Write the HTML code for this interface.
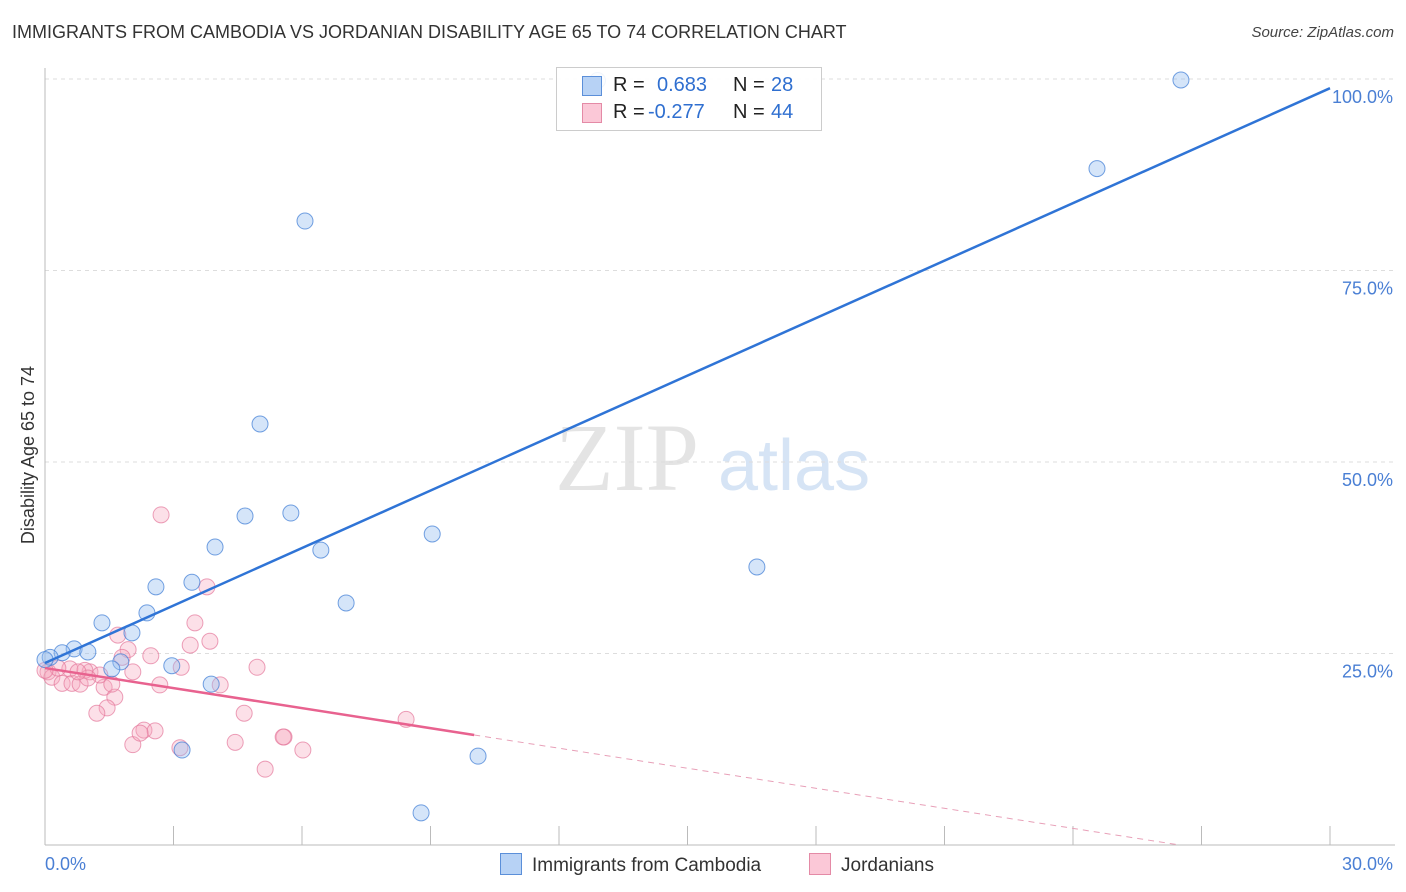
<!DOCTYPE html>
<html><head><meta charset="utf-8">
<style>
body{margin:0;background:#fff;font-family:"Liberation Sans",sans-serif;}
#wrap{position:relative;width:1406px;height:892px;overflow:hidden;}
.t{position:absolute;white-space:nowrap;}
</style></head>
<body>
<div id="wrap">
<div class="t" style="left:12px;top:22px;font-size:18px;color:#333;">IMMIGRANTS FROM CAMBODIA VS JORDANIAN DISABILITY AGE 65 TO 74 CORRELATION CHART</div>
<div class="t" style="right:12px;top:24px;font-size:15px;color:#444;font-style:italic;">Source: ZipAtlas.com</div>
<svg id="svg" width="1406" height="892" style="position:absolute;left:0;top:0">
<text x="555" y="490" font-family="Liberation Serif,serif" font-size="96" fill="#e4e4e4">ZIP</text>
<text x="718" y="490" font-family="Liberation Sans,sans-serif" font-size="72" fill="#d6e4f5">atlas</text>
<g id="grid"></g><g id="axes"></g><g id="pts"></g><g id="lines"></g>
<text transform="translate(34,455) rotate(-90)" text-anchor="middle" font-size="18" fill="#333">Disability Age 65 to 74</text>
</svg>
<div style="position:absolute;left:556px;top:67px;width:264px;height:62px;border:1px solid #ccc;background:rgba(255,255,255,0.9);font-size:20px;">
 <div style="position:absolute;left:25px;top:8px;width:18px;height:18px;background:#b7d2f5;border:1px solid #5b8fd9;"></div>
 <div style="position:absolute;left:25px;top:35px;width:18px;height:18px;background:#fbc8d7;border:1px solid #e48aa6;"></div>
 <div class="t" style="left:56px;top:6px;color:#222">R = </div><div class="t" style="left:100px;top:6px;color:#2f6fd0">0.683</div>
 <div class="t" style="left:176px;top:6px;color:#222">N = </div><div class="t" style="left:214px;top:6px;color:#2f6fd0">28</div>
 <div class="t" style="left:56px;top:33px;color:#222">R = </div><div class="t" style="left:91px;top:33px;color:#2f6fd0">-0.277</div>
 <div class="t" style="left:176px;top:33px;color:#222">N = </div><div class="t" style="left:214px;top:33px;color:#2f6fd0">44</div>
</div>
<div style="position:absolute;left:500px;top:853px;font-size:19px;color:#333;">
 <span style="display:inline-block;width:20px;height:20px;background:#b7d2f5;border:1px solid #5b8fd9;vertical-align:-4px;margin-right:10px"></span>Immigrants from Cambodia</div>
<div style="position:absolute;left:809px;top:853px;font-size:19px;color:#333;">
 <span style="display:inline-block;width:20px;height:20px;background:#fbc8d7;border:1px solid #e48aa6;vertical-align:-4px;margin-right:10px"></span>Jordanians</div>
</div>
<script>
const blueX=[26.52,24.56,6.07,5.02,4.67,5.74,3.97,9.04,6.44,16.62,2.59,3.43,7.03,2.38,1.33,2.03,0.68,1.0,0.4,0.12,1.77,1.56,2.96,3.88,3.2,10.11,8.78,0,12.9];
const blueY=[99.87,88.3,81.46,54.96,42.95,43.34,38.9,40.6,38.5,36.3,33.7,34.3,31.6,30.3,29.0,27.7,25.6,25.2,25.1,24.5,23.9,23.0,23.4,21.0,12.4,11.6,4.2,24.2,99.8];
const pinkX=[2.71,3.78,3.5,3.39,3.85,1.7,1.94,2.47,1.8,4.95,3.18,2.05,2.68,4.09,1.38,0.07,0.16,0.4,0.63,0.82,1.05,1.28,0.93,0.58,0.3,1.63,1.45,1.21,4.65,8.43,2.31,2.57,2.05,3.15,4.44,5.58,5.56,6.02,5.14,1.56,1.0,2.22,0,0.77];
const pinkY=[43.1,33.7,29.0,26.1,26.6,27.4,25.5,24.7,24.5,23.2,23.2,22.6,20.9,20.9,20.6,22.6,21.9,21.1,21.1,21.0,22.6,22.2,22.8,23.0,23.1,19.3,17.9,17.2,17.2,16.4,15.0,14.9,13.1,12.7,13.4,14.1,14.1,12.4,9.9,21.0,21.8,14.6,22.8,22.6];
const blueLine=[23.76,98.8];
const pinkLine=[23.1,-0.872];
const yTicks=[25,50,75,100];
const yTickLabels=["25.0%","50.0%","75.0%","100.0%"];
const NS="http://www.w3.org/2000/svg";
const X=v=>45+v/30*1285, Y=v=>845-v/100*766;
function mk(p,tag,a){const e=document.createElementNS(NS,tag);for(const k in a)e.setAttribute(k,a[k]);p.appendChild(e);return e;}
const grid=document.getElementById('grid'),axes=document.getElementById('axes'),pts=document.getElementById('pts'),lines=document.getElementById('lines');
yTicks.forEach((t,i)=>{
 const g=mk(grid,'line',{x1:45,x2:1393,y1:Y(t),y2:Y(t),stroke:'#ddd','stroke-dasharray':'4,4'});
 
 
 const l=mk(axes,'text',{x:1393,y:Y(t)+24,'text-anchor':'end','font-size':18,fill:'#4a7fd4'});
 l.textContent=yTickLabels[i];
 
 
});
mk(axes,'line',{x1:45,x2:45,y1:68,y2:845,stroke:'#bbb'});
mk(axes,'line',{x1:45,x2:1395,y1:845,y2:845,stroke:'#bbb'});
for(let k=1;k<=10;k++){mk(axes,'line',{x1:X(k*3),x2:X(k*3),y1:826,y2:845,stroke:'#bbb'});}
const xl0=mk(axes,'text',{x:45,y:870,'font-size':18,fill:'#4a7fd4'});xl0.textContent='0.0%';


const xl1=mk(axes,'text',{x:1393,y:870,'text-anchor':'end','font-size':18,fill:'#4a7fd4'});xl1.textContent='30.0%';


pinkX.forEach((x,i)=>{
 const c=mk(pts,'circle',{cx:X(x),cy:Y(pinkY[i]),r:8,fill:'rgba(246,165,190,0.35)',stroke:'rgba(228,120,155,0.7)','stroke-width':1});
 
 
});
blueX.forEach((x,i)=>{
 const c=mk(pts,'circle',{cx:X(x),cy:Y(blueY[i]),r:8,fill:'rgba(150,190,240,0.4)',stroke:'rgba(70,130,215,0.75)','stroke-width':1});
 
 
});
const bl=mk(lines,'line',{x1:X(0),y1:Y(blueLine[0]),x2:X(30),y2:Y(blueLine[1]),stroke:'#2f74d6','stroke-width':2.5});


const xEnd=10.02, xZero=-pinkLine[0]/pinkLine[1];
const pl=mk(lines,'line',{x1:X(0),y1:Y(pinkLine[0]),x2:X(xEnd),y2:Y(pinkLine[0]+pinkLine[1]*xEnd),stroke:'#e8628f','stroke-width':2.5});


const pd=mk(lines,'line',{x1:X(xEnd),y1:Y(pinkLine[0]+pinkLine[1]*xEnd),x2:X(xZero),y2:Y(0),stroke:'#e8a0b8','stroke-width':1,'stroke-dasharray':'6,5'});


</script>
</body></html>
